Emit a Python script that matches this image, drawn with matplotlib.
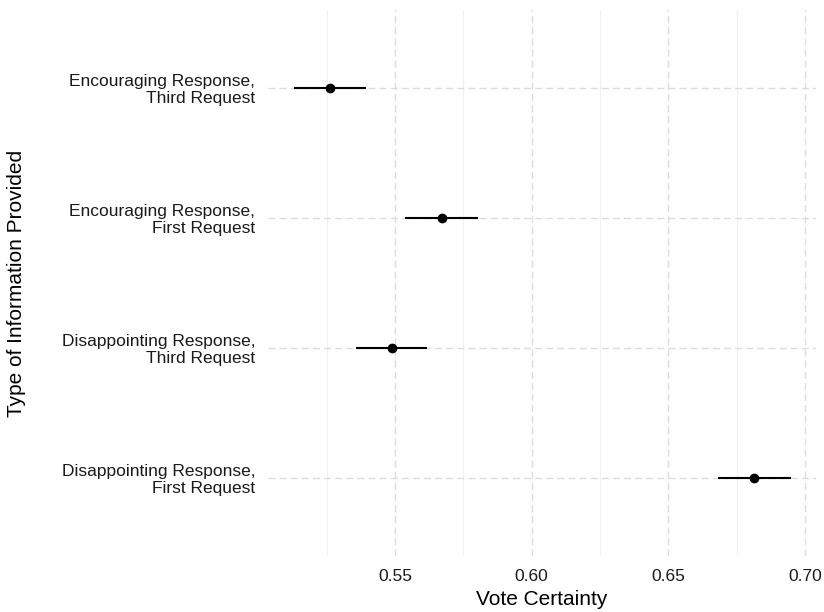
import matplotlib
matplotlib.use("Agg")
from matplotlib import pyplot as plt

plt.rcParams['font.family'] = ['Liberation Sans', 'DejaVu Sans']

# categories bottom to top
labels = ["Disappointing Response,\nFirst Request",
          "Disappointing Response,\nThird Request",
          "Encouraging Response,\nFirst Request",
          "Encouraging Response,\nThird Request"]
estimate = [0.6814, 0.5489, 0.5671, 0.5262]
ci_low = [0.6681, 0.5357, 0.5537, 0.5131]
ci_high = [0.6949, 0.5617, 0.5804, 0.5394]
xticks = [0.55, 0.60, 0.65, 0.70]
xminor = [0.525, 0.575, 0.625, 0.675]

fig = plt.figure(figsize=(8.24, 6.12), dpi=100)
ax = fig.add_axes([0.325, 0.0915, 0.665, 0.8922])

ypos = list(range(1, len(labels) + 1))
ax.hlines(ypos, ci_low, ci_high, color='black', lw=1.5, zorder=3)
ax.plot(estimate, ypos, 'o', color='black', ms=6, zorder=4)

ax.set_xlim(0.5035, 0.704)
ax.set_ylim(0.4, 4.6)
ax.set_yticks(ypos)
ax.set_yticklabels(labels, fontsize=12.5, color='#1a1a1a', linespacing=1.15)
ax.set_xticks(xticks)
ax.set_xticklabels(["%.2f" % t for t in xticks], fontsize=12.5, color='#1a1a1a')
ax.set_xticks(xminor, minor=True)

#ggplot minimal style: no spines, no tick marks
for s in ax.spines.values():
    s.set_visible(False)
ax.tick_params(axis='both', which='both', length=0)
ax.tick_params(axis='y', pad=9)
ax.tick_params(axis='x', pad=9)

ax.grid(True, which='major', axis='both', color='#dcdcdc', ls=(0, (5, 3)), lw=1.0, zorder=0)
ax.grid(True, which='minor', axis='x', color='#f1f1f1', ls='-', lw=0.9, zorder=0)
ax.set_axisbelow(True)

ax.set_xlabel("Vote Certainty", fontsize=15, labelpad=5)
ax.set_ylabel("Type of Information Provided", fontsize=15, labelpad=26)

fig.savefig("out.png", dpi=100)
